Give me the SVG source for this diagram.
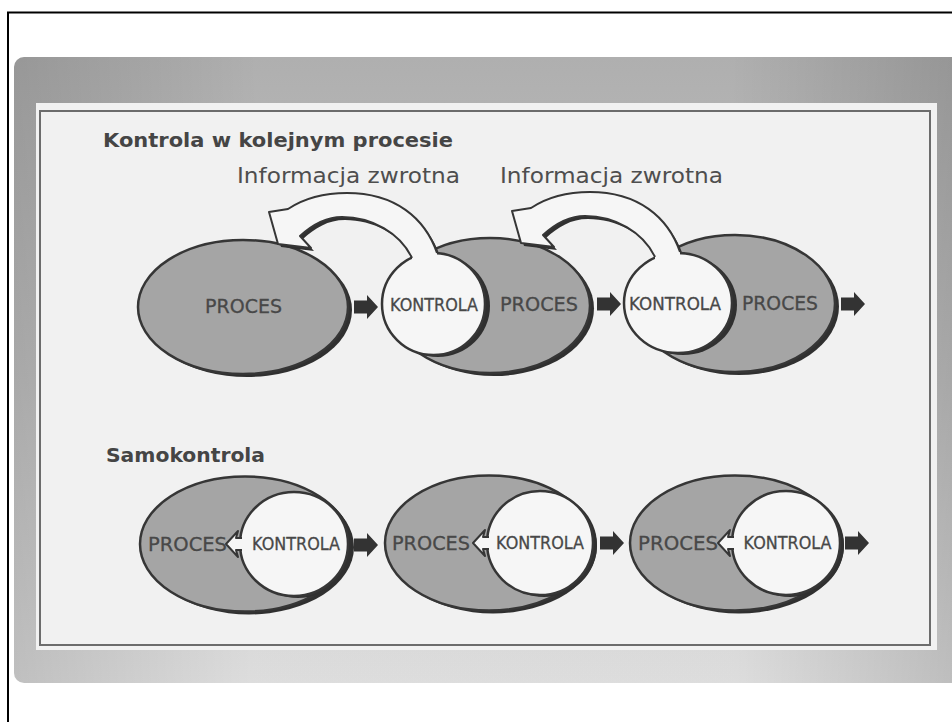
<svg xmlns="http://www.w3.org/2000/svg" width="952" height="722" viewBox="0 0 952 722">
<defs>
<linearGradient id="gv" x1="0" y1="0" x2="0" y2="1">
<stop offset="0" stop-color="#b4b4b4"/>
<stop offset="0.5" stop-color="#c8c8c8"/>
<stop offset="1" stop-color="#e4e4e4"/>
</linearGradient>
<linearGradient id="gh" x1="0" y1="0" x2="1" y2="0">
<stop offset="0" stop-color="#000" stop-opacity="0.16"/>
<stop offset="0.25" stop-color="#000" stop-opacity="0.03"/>
<stop offset="0.75" stop-color="#000" stop-opacity="0.03"/>
<stop offset="1" stop-color="#000" stop-opacity="0.18"/>
</linearGradient>
<path id="blk" d="M0 -6.5 H13 V-12 L24 0 L13 12 V6.5 H0 Z" fill="#333"/>
<path id="fbFill" d="M412 266 L412 258 C400 233 372 217 342 217 C325 217 312 225 300 236 L311 248 L278 244 L269 212 L288 209 C300 201 320 193 347 193 C395 193 425 218 437 253 L437 266 Z"/>
<path id="fbLine" d="M437 253 C425 218 395 193 347 193 C320 193 300 201 288 209 L269 212 L278 244 L311 248 L300 236 C312 225 325 217 342 217 C372 217 400 233 412 258"/>
<path id="notchFill" d="M0 0 L12 -13 L10 -6 L20 -6 L20 6 L10 6 L12 13 Z"/>
<path id="notchLine" d="M16 -6 L10 -6 L12 -13 L0 0 L12 13 L10 6 L16 6"/>
</defs>
<style>
.proc{fill:#a5a5a5;stroke:#363636;stroke-width:2.5}
.shadow{fill:#303030}
.ctrl{fill:#f6f6f6;stroke:#363636;stroke-width:2.5}
.lbl{font-family:"DejaVu Sans",Verdana,sans-serif;fill:#484848;stroke:#484848;stroke-width:0.3;text-anchor:middle}
.big{font-size:20px}
.small{font-size:17px}
.head{font-family:"DejaVu Sans",Verdana,sans-serif;font-weight:bold;fill:#454545}
.info{font-family:"DejaVu Sans",Verdana,sans-serif;font-size:21px;fill:#4e4e4e}
.fbw{fill:#f6f6f6}
.fbl{fill:none;stroke:#363636;stroke-width:2;stroke-linejoin:round}
</style>

<rect x="8" y="12.5" width="1000" height="800" fill="#fff" stroke="#000" stroke-width="2"/>
<rect x="14" y="57" width="960" height="626" rx="10" fill="url(#gv)"/>
<rect x="14" y="57" width="960" height="626" rx="10" fill="url(#gh)"/>
<rect x="36" y="103" width="901" height="547" fill="#f1f1f1"/>
<rect x="40" y="111" width="890" height="534" fill="none" stroke="#6c6c6c" stroke-width="2"/>

<text class="head" x="103" y="147" font-size="19.5" textLength="350" lengthAdjust="spacingAndGlyphs">Kontrola w kolejnym procesie</text>
<text class="info" x="237" y="183" textLength="223" lengthAdjust="spacingAndGlyphs">Informacja zwrotna</text>
<text class="info" x="500" y="183" textLength="223" lengthAdjust="spacingAndGlyphs">Informacja zwrotna</text>
<text class="head" x="106" y="462" font-size="20" textLength="159" lengthAdjust="spacingAndGlyphs">Samokontrola</text>

<!-- Top row -->
<g id="proces1">
<ellipse class="shadow" cx="247" cy="310" rx="105" ry="67"/>
<ellipse class="proc" cx="243" cy="307" rx="105" ry="67"/>
<text class="lbl big" x="243.5" y="313" textLength="77" lengthAdjust="spacingAndGlyphs">PROCES</text>
</g>
<g id="proces2">
<ellipse class="shadow" cx="494" cy="308.5" rx="100" ry="67.5"/>
<ellipse class="proc" cx="490" cy="305.5" rx="100" ry="67.5"/>
<text class="lbl big" x="539" y="311" textLength="78" lengthAdjust="spacingAndGlyphs">PROCES</text>
</g>
<g id="kontrola1">
<ellipse class="shadow" cx="438" cy="306" rx="52" ry="51"/>
<use href="#fbFill" transform="translate(3,3)" fill="#303030"/>
<ellipse class="ctrl" cx="433.5" cy="304" rx="51.5" ry="51"/>
<text class="lbl small" x="434" y="311" textLength="88" lengthAdjust="spacingAndGlyphs">KONTROLA</text>
</g>
<g id="feedback1">
<use href="#fbFill" class="fbw"/>
<use href="#fbLine" class="fbl"/>
</g>
<g id="proces3">
<ellipse class="shadow" cx="739" cy="306.5" rx="100" ry="68.5"/>
<ellipse class="proc" cx="735" cy="303.5" rx="100" ry="68.5"/>
<text class="lbl big" x="780" y="310" textLength="76" lengthAdjust="spacingAndGlyphs">PROCES</text>
</g>
<g id="kontrola2">
<ellipse class="shadow" cx="683" cy="305" rx="54" ry="50"/>
<use href="#fbFill" transform="translate(246,2)" fill="#303030"/>
<ellipse class="ctrl" cx="678" cy="303" rx="54" ry="50"/>
<text class="lbl small" x="675" y="310" textLength="92" lengthAdjust="spacingAndGlyphs">KONTROLA</text>
</g>
<g id="feedback2" transform="translate(243,-1)">
<use href="#fbFill" class="fbw"/>
<use href="#fbLine" class="fbl"/>
</g>

<!-- Bottom row -->
<g id="samo1">
<ellipse class="shadow" cx="249" cy="547" rx="105" ry="67.5"/>
<ellipse class="proc" cx="245" cy="544" rx="105" ry="67.5"/>
<ellipse class="shadow" cx="298" cy="546" rx="54" ry="52"/>
<ellipse class="ctrl" cx="294" cy="544" rx="54" ry="52"/>
<use href="#notchFill" x="226" y="544" fill="#f6f6f6"/>
<use href="#notchLine" x="226" y="544" class="fbl"/>
<text class="lbl big" x="187.5" y="551" textLength="79" lengthAdjust="spacingAndGlyphs">PROCES</text>
<text class="lbl small" x="296" y="550" textLength="88" lengthAdjust="spacingAndGlyphs">KONTROLA</text>
</g>
<g id="samo2">
<ellipse class="shadow" cx="493" cy="546" rx="104" ry="67.5"/>
<ellipse class="proc" cx="489" cy="543" rx="104" ry="67.5"/>
<ellipse class="shadow" cx="544" cy="545" rx="53" ry="52"/>
<ellipse class="ctrl" cx="540" cy="543" rx="53" ry="52"/>
<use href="#notchFill" x="473" y="543" fill="#f6f6f6"/>
<use href="#notchLine" x="473" y="543" class="fbl"/>
<text class="lbl big" x="431" y="550" textLength="78" lengthAdjust="spacingAndGlyphs">PROCES</text>
<text class="lbl small" x="540" y="549" textLength="88" lengthAdjust="spacingAndGlyphs">KONTROLA</text>
</g>
<g id="samo3">
<ellipse class="shadow" cx="739" cy="546" rx="105" ry="67.5"/>
<ellipse class="proc" cx="735" cy="543" rx="105" ry="67.5"/>
<ellipse class="shadow" cx="790" cy="545" rx="54" ry="52"/>
<ellipse class="ctrl" cx="786" cy="543" rx="54" ry="52"/>
<use href="#notchFill" x="718" y="543" fill="#f6f6f6"/>
<use href="#notchLine" x="718" y="543" class="fbl"/>
<text class="lbl big" x="678" y="550" textLength="80" lengthAdjust="spacingAndGlyphs">PROCES</text>
<text class="lbl small" x="787.5" y="549" textLength="88" lengthAdjust="spacingAndGlyphs">KONTROLA</text>
</g>

<g id="connectors">
<use href="#blk" x="354" y="307"/>
<use href="#blk" x="597" y="304"/>
<use href="#blk" x="841" y="304"/>
<use href="#blk" x="354" y="545"/>
<use href="#blk" x="600" y="543"/>
<use href="#blk" x="845" y="543"/>
</g>
</svg>
